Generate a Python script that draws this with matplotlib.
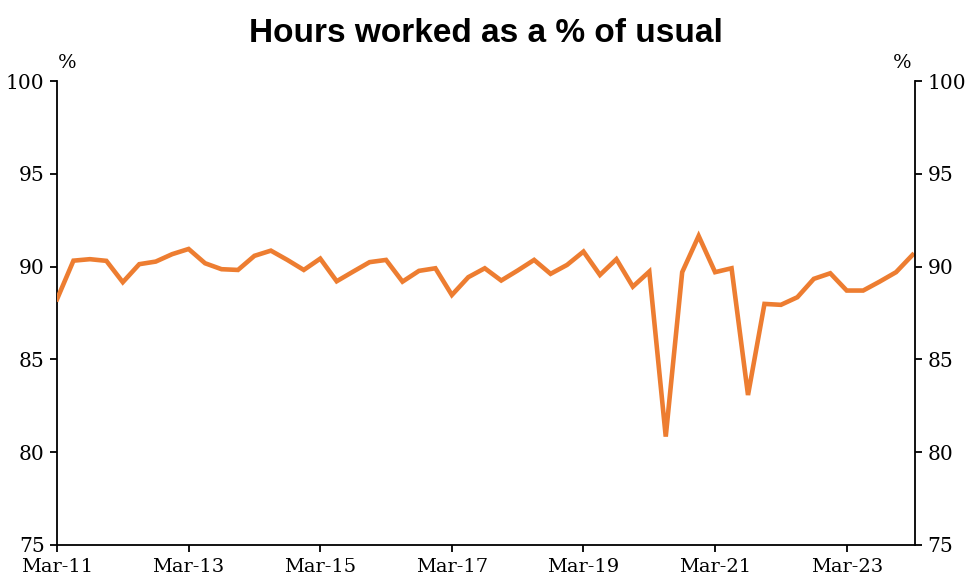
import matplotlib
matplotlib.use("Agg")
import matplotlib.pyplot as plt
import numpy as np

# Quarterly, Mar-11 .. Mar-24
START_YEAR = 2011
hours_pct = [
    88.24, 90.32, 90.40, 90.31,
    89.16, 90.13, 90.27, 90.67,
    90.95, 90.18, 89.86, 89.82,
    90.58, 90.86, 90.36, 89.82,
    90.43, 89.21, 89.73, 90.24,
    90.36, 89.19, 89.77, 89.91,
    88.47, 89.43, 89.91, 89.25,
    89.79, 90.36, 89.61, 90.09,
    90.81, 89.55, 90.40, 88.92,
    89.73, 80.84, 89.70, 91.65,
    89.70, 89.91, 83.08, 87.99,
    87.94, 88.35, 89.34, 89.64,
    88.71, 88.71, 89.19, 89.70,
    90.63,
]
y_ticks = [75, 80, 85, 90, 95, 100]

months = ["Mar", "Jun", "Sep", "Dec"]
labels = [f"{months[i % 4]}-{(START_YEAR + i // 4) % 100:02d}" for i in range(len(hours_pct))]

SERIF = "DejaVu Serif"
FS = 14
ORANGE = "#ED7D31"

fig = plt.figure(figsize=(9.71, 5.81), dpi=100)
ax = fig.add_axes([57 / 971, 1 - 545 / 581, (915 - 57) / 971, (545 - 81) / 581])

x = np.arange(len(hours_pct))
ax.plot(x, hours_pct, color=ORANGE, linewidth=3.3, solid_joinstyle="miter", zorder=3)

ax.set_xlim(0, 52.15)
ax.set_ylim(75, 100)
ax.set_yticks(y_ticks)
ax.set_xticks(x[::8])
ax.set_xticklabels([labels[i] for i in x[::8]])

ax2 = ax.twinx()
ax2.set_ylim(75, 100)
ax2.set_yticks(y_ticks)

for a in (ax, ax2):
    a.spines["top"].set_visible(False)
    for s in a.spines.values():
        s.set_linewidth(1.3)
    a.tick_params(direction="out", length=5, width=1.3, labelsize=FS + 0.5, pad=4)
    for lab in a.get_xticklabels() + a.get_yticklabels():
        lab.set_fontfamily(SERIF)
ax.tick_params(axis="x", labelsize=FS)
ax2.spines["left"].set_visible(False)
ax2.spines["bottom"].set_visible(False)
ax.spines["right"].set_visible(False)

fig.text(67 / 971, 1 - 63 / 581, "%", fontsize=FS, family=SERIF, ha="center", va="center")
fig.text(902 / 971, 1 - 63 / 581, "%", fontsize=FS, family=SERIF, ha="center", va="center")

fig.text(0.5, 1 - 33 / 581, "Hours worked as a % of usual", fontsize=24,
         fontweight="bold", family="Liberation Sans", ha="center", va="center")

fig.savefig("out.png", dpi=100, facecolor="white")
